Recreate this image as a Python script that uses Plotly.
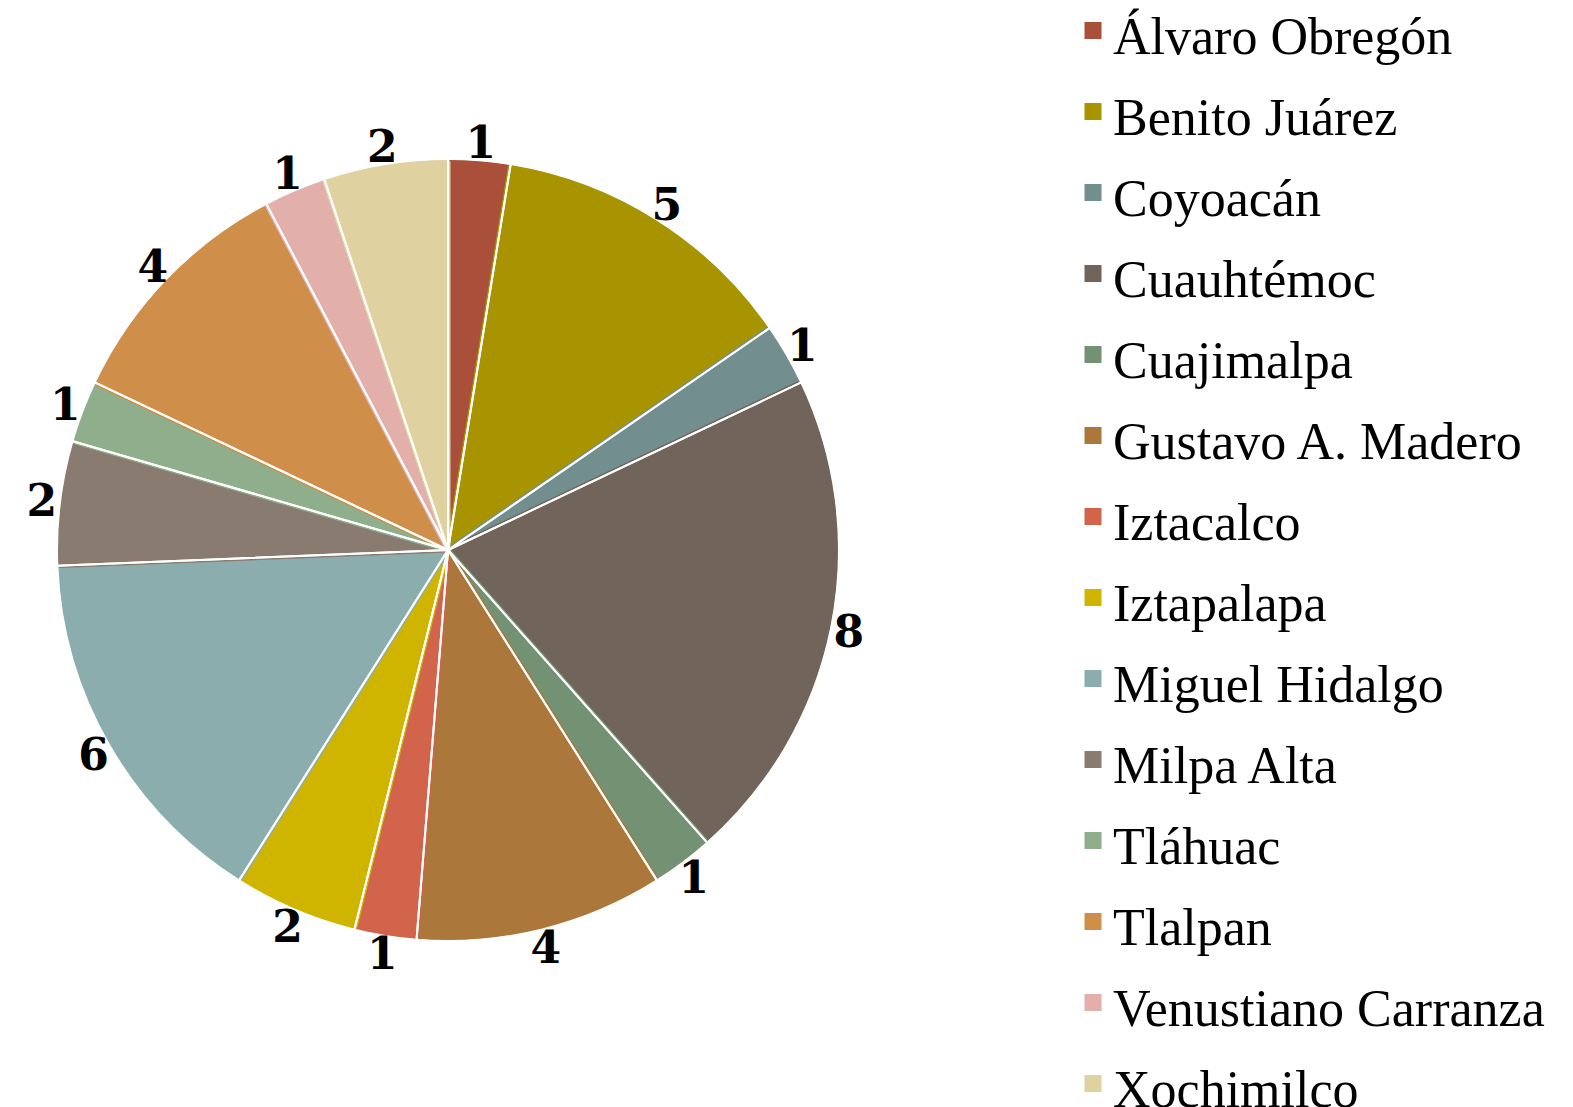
import plotly.graph_objects as go

names = ["Álvaro Obregón", "Benito Juárez", "Coyoacán", "Cuauhtémoc", "Cuajimalpa",
         "Gustavo A. Madero", "Iztacalco", "Iztapalapa", "Miguel Hidalgo", "Milpa Alta",
         "Tláhuac", "Tlalpan", "Venustiano Carranza", "Xochimilco"]
values = [1, 5, 1, 8, 1, 4, 1, 2, 6, 2, 1, 4, 1, 2]
colors = ["#AA503A", "#A89400", "#728E8E", "#71645A", "#739273", "#AC773A", "#D2644C",
          "#CFB400", "#8BADAD", "#8A7B70", "#8FAF8C", "#CF8F4A", "#E3AFAA", "#DFD1A0"]

legend_labels = [f'<span style="font-size:52px">{n}</span>' for n in names]

W, H = 1573, 1107
CX = 440            # pie centre (plot px)
R = 387.5           # colored pie radius (+2.5px outline -> 390)
R_SEP = 391.5       # white separator overlay radius
R_LBL = 440         # invisible label ring radius
YC = 542            # pie centre y (plot px)


def dom(r):
    yc = 1 - YC / H
    return dict(x=[(CX - r) / W, (CX + r) / W], y=[yc - r / H, yc + r / H])


common = dict(labels=legend_labels, values=values, sort=False,
              direction="clockwise", rotation=0)

# colored slices (outline in slice colour so the legend swatches are larger)
fig = go.Figure(go.Pie(
    **common, domain=dom(R),
    marker=dict(colors=colors, line=dict(color=colors, width=5)),
    textinfo="none", hoverinfo="label+value", showlegend=True,
))
# white separators on top
fig.add_trace(go.Pie(
    **common, domain=dom(R_SEP),
    marker=dict(colors=["rgba(0,0,0,0)"] * len(values), line=dict(color="white", width=2)),
    textinfo="none", hoverinfo="skip", showlegend=False,
))
# value labels placed in an invisible ring just outside the pie
fig.add_trace(go.Pie(
    **common, domain=dom(R_LBL), hole=0.86,
    marker=dict(colors=["rgba(0,0,0,0)"] * len(values), line=dict(width=0)),
    textinfo="value", textposition="inside", insidetextorientation="horizontal",
    textfont=dict(family="DejaVu Serif", size=44, color="black", weight="bold"),
    hoverinfo="skip", showlegend=False,
))

fig.update_layout(
    width=W, height=H,
    margin=dict(l=0, r=0, t=0, b=0, autoexpand=False),
    paper_bgcolor="white",
    plot_bgcolor="white",
    showlegend=True,
    legend=dict(
        x=1065 / W, xanchor="left", y=1 + 23 / H, yanchor="top",
        font=dict(family="Liberation Serif", size=60, color="black"),
        bgcolor="rgba(0,0,0,0)",
        maxheight=1400,
    ),
)

fig.write_html("out.html")
